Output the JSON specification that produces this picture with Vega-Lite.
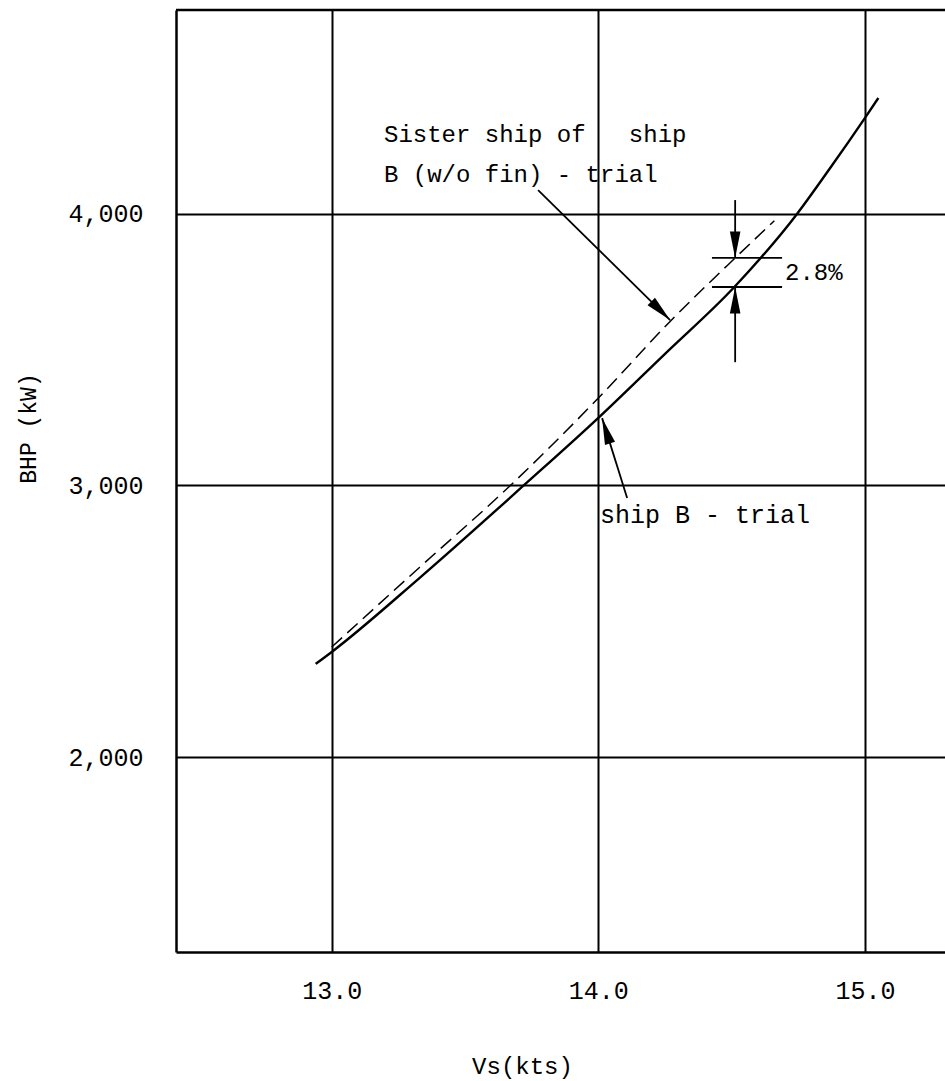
{
  "$schema": "https://vega.github.io/schema/vega-lite/v6.json",
  "width": 769,
  "height": 942,
  "autosize": "none",
  "padding": {"left": 176, "top": 10, "right": 0, "bottom": 129},
  "background": "white",
  "config": {
    "view": {"stroke": null},
    "axis": {"labelFont": "Liberation Mono", "titleFont": "Liberation Mono", "labelColor": "black", "titleColor": "black", "titleFontWeight": "normal"},
    "text": {"font": "Liberation Mono", "color": "black"}
  },
  "datasets": {
    "curves": [
      {"series": "ship B - trial", "vs": 12.94, "bhp": 2343},
      {"series": "ship B - trial", "vs": 13.0, "bhp": 2387},
      {"series": "ship B - trial", "vs": 13.33, "bhp": 2660},
      {"series": "ship B - trial", "vs": 13.72, "bhp": 3000},
      {"series": "ship B - trial", "vs": 14.0, "bhp": 3249},
      {"series": "ship B - trial", "vs": 14.25, "bhp": 3485},
      {"series": "ship B - trial", "vs": 14.51, "bhp": 3731},
      {"series": "ship B - trial", "vs": 14.745, "bhp": 4000},
      {"series": "ship B - trial", "vs": 14.87, "bhp": 4170},
      {"series": "ship B - trial", "vs": 15.0, "bhp": 4354},
      {"series": "ship B - trial", "vs": 15.05, "bhp": 4427},
      {"series": "Sister ship (w/o fin) - trial", "vs": 13.0, "bhp": 2405},
      {"series": "Sister ship (w/o fin) - trial", "vs": 13.33, "bhp": 2699},
      {"series": "Sister ship (w/o fin) - trial", "vs": 13.67, "bhp": 3000},
      {"series": "Sister ship (w/o fin) - trial", "vs": 14.0, "bhp": 3322},
      {"series": "Sister ship (w/o fin) - trial", "vs": 14.27, "bhp": 3605},
      {"series": "Sister ship (w/o fin) - trial", "vs": 14.513, "bhp": 3838},
      {"series": "Sister ship (w/o fin) - trial", "vs": 14.66, "bhp": 3975}
    ],
    "frame": [{"bhp": 4751}],
    "segments": [
      {"vs": 13.774, "bhp": 4088, "vs2": 14.269, "bhp2": 3609},
      {"vs": 14.108, "bhp": 2954, "vs2": 14.014, "bhp2": 3248},
      {"vs": 14.513, "bhp": 4051, "vs2": 14.513, "bhp2": 3838},
      {"vs": 14.513, "bhp": 3454, "vs2": 14.513, "bhp2": 3731},
      {"vs": 14.426, "bhp": 3838, "vs2": 14.689, "bhp2": 3838},
      {"vs": 14.426, "bhp": 3731, "vs2": 14.689, "bhp2": 3731}
    ],
    "heads": [
      {"id": "a1", "vs": 14.269, "bhp": 3609},
      {"id": "a2", "vs": 14.014, "bhp": 3248},
      {"id": "a3", "vs": 14.513, "bhp": 3838},
      {"id": "a4", "vs": 14.513, "bhp": 3731}
    ],
    "labels": [
      {"id": "s", "vs": 13.196, "bhp": 4265, "label": "Sister ship of\u00a0\u00a0\u00a0ship"},
      {"id": "s", "vs": 13.196, "bhp": 4117, "label": "B (w/o fin) - trial"},
      {"id": "s", "vs": 14.70, "bhp": 3757, "label": "2.8%"},
      {"id": "b", "vs": 14.006, "bhp": 2861, "label": "ship B - trial"}
    ]
  },
  "layer": [
    {
      "data": {"name": "curves"},
      "transform": [{"filter": "datum.series == 'ship B - trial'"}],
      "mark": {"type": "line", "interpolate": "monotone", "color": "black", "strokeWidth": 2.4},
      "encoding": {
        "x": {
          "field": "vs", "type": "quantitative",
          "scale": {"domain": [12.416, 15.3], "nice": false, "zero": false},
          "axis": {
            "values": [13, 14, 15], "labelExpr": "format(datum.value, '.1f')", "grid": true, "gridColor": "black", "gridWidth": 2, "gridOpacity": 1,
            "domain": true, "domainColor": "black", "domainWidth": 2.5, "ticks": false, "labelPadding": 26,
            "labelFontSize": 25, "labelOverlap": false, "labelFlush": false,
            "title": "Vs(kts)", "titleFontSize": 24, "titleX": 346, "titleY": 114, "titleAlign": "center", "titleBaseline": "middle"
          }
        },
        "y": {
          "field": "bhp", "type": "quantitative",
          "scale": {"domain": [1282, 4751], "nice": false, "zero": false},
          "axis": {
            "values": [2000, 3000, 4000], "labelExpr": "format(datum.value, ',')", "grid": true, "gridColor": "black", "gridWidth": 2, "gridOpacity": 1,
            "domain": true, "domainColor": "black", "domainWidth": 2.5, "ticks": false, "labelPadding": 33,
            "labelFontSize": 25, "labelOverlap": false, "labelFlush": false,
            "title": "BHP (kW)", "titleFontSize": 23, "titleX": -148, "titleY": 418, "titleAngle": 270, "titleAlign": "center", "titleBaseline": "middle"
          }
        }
      }
    },
    {
      "data": {"name": "curves"},
      "transform": [{"filter": "datum.series != 'ship B - trial'"}],
      "mark": {"type": "line", "interpolate": "monotone", "color": "black", "strokeWidth": 1.5, "strokeDash": [14, 7]},
      "encoding": {
        "x": {"field": "vs", "type": "quantitative", "scale": {"domain": [12.416, 15.3], "nice": false, "zero": false}, "title": "Vs(kts)"},
        "y": {"field": "bhp", "type": "quantitative", "scale": {"domain": [1282, 4751], "nice": false, "zero": false}, "title": "BHP (kW)"}
      }
    },
    {
      "data": {"name": "frame"},
      "mark": {"type": "rule", "color": "black", "strokeWidth": 2.5},
      "encoding": {
        "y": {"field": "bhp", "type": "quantitative", "scale": {"domain": [1282, 4751], "nice": false, "zero": false}, "title": "BHP (kW)"}
      }
    },
    {
      "data": {"name": "segments"},
      "mark": {"type": "rule", "color": "black", "strokeWidth": 1.8},
      "encoding": {
        "x": {"field": "vs", "type": "quantitative", "scale": {"domain": [12.416, 15.3], "nice": false, "zero": false}, "title": "Vs(kts)"},
        "x2": {"field": "vs2"},
        "y": {"field": "bhp", "type": "quantitative", "scale": {"domain": [1282, 4751], "nice": false, "zero": false}, "title": "BHP (kW)"},
        "y2": {"field": "bhp2"}
      }
    },
    {
      "data": {"name": "heads"},
      "transform": [{"filter": "datum.id == 'a1'"}],
      "mark": {"type": "point", "shape": "M0,0L0.4,2L-0.4,2Z", "size": 700, "angle": 134.6, "filled": true, "color": "black", "opacity": 1, "strokeWidth": 0},
      "encoding": {
        "x": {"field": "vs", "type": "quantitative", "scale": {"domain": [12.416, 15.3], "nice": false, "zero": false}, "title": "Vs(kts)"},
        "y": {"field": "bhp", "type": "quantitative", "scale": {"domain": [1282, 4751], "nice": false, "zero": false}, "title": "BHP (kW)"}
      }
    },
    {
      "data": {"name": "heads"},
      "transform": [{"filter": "datum.id == 'a2'"}],
      "mark": {"type": "point", "shape": "M0,0L0.4,2L-0.4,2Z", "size": 700, "angle": 342.6, "filled": true, "color": "black", "opacity": 1, "strokeWidth": 0},
      "encoding": {
        "x": {"field": "vs", "type": "quantitative", "scale": {"domain": [12.416, 15.3], "nice": false, "zero": false}, "title": "Vs(kts)"},
        "y": {"field": "bhp", "type": "quantitative", "scale": {"domain": [1282, 4751], "nice": false, "zero": false}, "title": "BHP (kW)"}
      }
    },
    {
      "data": {"name": "heads"},
      "transform": [{"filter": "datum.id == 'a3'"}],
      "mark": {"type": "point", "shape": "M0,0L0.4,2L-0.4,2Z", "size": 700, "angle": 180, "filled": true, "color": "black", "opacity": 1, "strokeWidth": 0},
      "encoding": {
        "x": {"field": "vs", "type": "quantitative", "scale": {"domain": [12.416, 15.3], "nice": false, "zero": false}, "title": "Vs(kts)"},
        "y": {"field": "bhp", "type": "quantitative", "scale": {"domain": [1282, 4751], "nice": false, "zero": false}, "title": "BHP (kW)"}
      }
    },
    {
      "data": {"name": "heads"},
      "transform": [{"filter": "datum.id == 'a4'"}],
      "mark": {"type": "point", "shape": "M0,0L0.4,2L-0.4,2Z", "size": 700, "angle": 0, "filled": true, "color": "black", "opacity": 1, "strokeWidth": 0},
      "encoding": {
        "x": {"field": "vs", "type": "quantitative", "scale": {"domain": [12.416, 15.3], "nice": false, "zero": false}, "title": "Vs(kts)"},
        "y": {"field": "bhp", "type": "quantitative", "scale": {"domain": [1282, 4751], "nice": false, "zero": false}, "title": "BHP (kW)"}
      }
    },
    {
      "data": {"name": "labels"},
      "transform": [{"filter": "datum.id == 's'"}],
      "mark": {"type": "text", "align": "left", "baseline": "alphabetic", "fontSize": 24, "font": "Liberation Mono", "color": "black"},
      "encoding": {
        "x": {"field": "vs", "type": "quantitative", "scale": {"domain": [12.416, 15.3], "nice": false, "zero": false}, "title": "Vs(kts)"},
        "y": {"field": "bhp", "type": "quantitative", "scale": {"domain": [1282, 4751], "nice": false, "zero": false}, "title": "BHP (kW)"},
        "text": {"field": "label"}
      }
    },
    {
      "data": {"name": "labels"},
      "transform": [{"filter": "datum.id == 'b'"}],
      "mark": {"type": "text", "align": "left", "baseline": "alphabetic", "fontSize": 25, "font": "Liberation Mono", "color": "black"},
      "encoding": {
        "x": {"field": "vs", "type": "quantitative", "scale": {"domain": [12.416, 15.3], "nice": false, "zero": false}, "title": "Vs(kts)"},
        "y": {"field": "bhp", "type": "quantitative", "scale": {"domain": [1282, 4751], "nice": false, "zero": false}, "title": "BHP (kW)"},
        "text": {"field": "label"}
      }
    }
  ]
}
